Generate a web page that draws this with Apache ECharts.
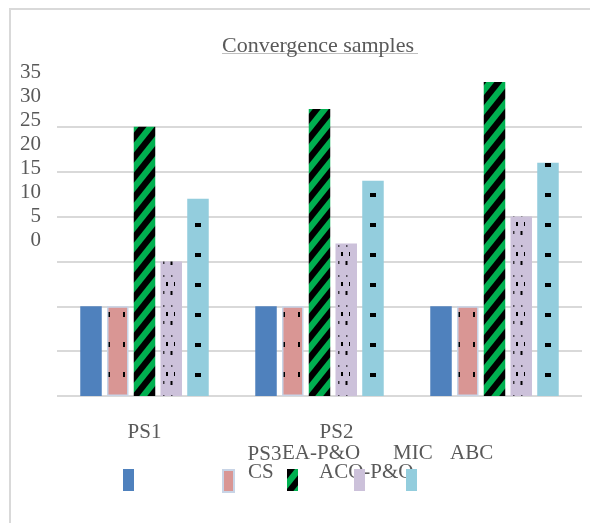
<!DOCTYPE html>
<html>
<head>
<meta charset="utf-8">
<script src="https://cdn.jsdelivr.net/npm/echarts@6/dist/echarts.min.js"></script>
<style>
html,body{margin:0;padding:0;background:#fff;}
#chart{width:590px;height:523px;}
</style>
</head>
<body>
<div id="chart"></div>
<script>
const categories = ['PS1', 'PS2', 'PS3'];
const seriesNames = ['EA-P&O', 'CS', 'ACO-P&O', 'MIC', 'ABC'];
const eaPO = [10, 10, 10];
const cs = [10, 10, 10];
const acoPO = [30, 32, 35];
const mic = [15, 17, 20];
const abc = [22, 24, 26];
const yTickLabels = ['0', '5', '10', '15', '20', '25', '30', '35'];

const FONT = '"Liberation Serif", "DejaVu Serif", serif';
const GREY = '#595959';

function makeTile(w, h, bg, draw) {
  const c = document.createElement('canvas');
  c.width = w; c.height = h;
  const ctx = c.getContext('2d');
  ctx.fillStyle = bg; ctx.fillRect(0, 0, w, h);
  ctx.fillStyle = '#000';
  draw(ctx);
  return { image: c, repeat: 'repeat' };
}

const greenPat = makeTile(16, 20, '#00b050', ctx => {
  for (let o = -32; o <= 32; o += 16) {
    ctx.beginPath();
    ctx.moveTo(o, 20); ctx.lineTo(o + 8, 20); ctx.lineTo(o + 24, 0); ctx.lineTo(o + 16, 0);
    ctx.closePath(); ctx.fill();
  }
});
const pinkPat = makeTile(175, 30, '#d99694', ctx => {
  ctx.fillRect(108, 12, 2, 5);
  ctx.fillRect(123, 12, 2, 5);
});
const micPat = makeTile(175, 30, '#ccc1da', ctx => {
  ctx.fillStyle = 'rgba(0,0,0,0.6)';
  [163, 171, 179].forEach(x => ctx.fillRect(x, 5, 1.5, 2));
  ctx.fillStyle = '#000';
  [166, 174].forEach(x => ctx.fillRect(x, 12, 2, 4));
  ctx.fillRect(170.5, 21, 2, 4);
  ctx.fillStyle = 'rgba(0,0,0,0.7)';
  [163, 178.5].forEach(x => ctx.fillRect(x, 21, 1.5, 3));
});
const abcPat = makeTile(175, 30, '#93cddd', ctx => {
  ctx.fillRect(20, 13, 6, 4);
});

const seriesData = [eaPO, cs, acoPO, mic, abc];
const seriesStyles = [
  { color: '#4f81bd' },
  { color: pinkPat, borderColor: '#c8d4e6', borderWidth: 1.5 },
  { color: greenPat },
  { color: micPat },
  { color: abcPat }
];

const series = seriesNames.map((n, i) => ({
  name: n,
  type: 'bar',
  xAxisIndex: 0,
  yAxisIndex: 0,
  barWidth: 21.5,
  barGap: '24.4%',
  itemStyle: seriesStyles[i],
  data: seriesData[i]
}));

const legendLeft = [123, 222, 287, 354, 406];
const legends = seriesNames.map((n, i) => ({
  data: [n],
  left: legendLeft[i],
  top: 469,
  padding: 0,
  icon: 'rect',
  itemWidth: 11,
  itemHeight: 22,
  selectedMode: false,
  formatter: () => '',
  textStyle: { fontSize: 1 }
}));

const legendTextPos = [
  [282, 453], [248, 472], [319, 472], [393, 453], [450, 453]
];

const richLabel = {
  p1: { fontFamily: FONT, fontSize: 21, color: GREY, lineHeight: 21 },
  p2: { fontFamily: FONT, fontSize: 21, color: GREY, lineHeight: 21, padding: [0, 0, 0, 34] },
  p3: { fontFamily: FONT, fontSize: 21, color: GREY, lineHeight: 21, padding: [44, 460, 0, 0] }
};

const chart = echarts.init(document.getElementById('chart'), null, { renderer: 'canvas' });
chart.setOption({
  animation: false,
  backgroundColor: '#fff',
  title: {
    text: 'Convergence samples',
    left: 222,
    top: 35,
    padding: 0,
    textStyle: { fontFamily: FONT, fontSize: 22, fontWeight: 'normal', color: GREY }
  },
  legend: legends,
  grid: [
    { left: 57, right: 8, top: 82, bottom: 127, containLabel: false, outerBoundsMode: 'none' },
    { left: 49, width: 10, top: 72, bottom: 283, containLabel: false, outerBoundsMode: 'none' }
  ],
  xAxis: [
    {
      type: 'category',
      gridIndex: 0,
      data: categories,
      axisLine: { show: false },
      axisTick: { show: false },
      axisLabel: {
        interval: 0,
        margin: 26,
        hideOverlap: false,
        formatter: (v) => '{p' + (categories.indexOf(v) + 1) + '|' + v + '}',
        rich: richLabel
      }
    },
    { type: 'value', gridIndex: 1, show: false, min: 0, max: 1 }
  ],
  yAxis: [
    {
      type: 'value',
      gridIndex: 0,
      min: 0,
      max: 35,
      interval: 5,
      axisLabel: { show: false },
      axisLine: { show: false },
      axisTick: { show: false },
      splitLine: { show: true, showMaxLine: false, lineStyle: { color: '#d9d9d9', width: 2 } }
    },
    {
      type: 'value',
      gridIndex: 1,
      min: 0,
      max: 35,
      interval: 5,
      axisLine: { show: false },
      axisTick: { show: false },
      splitLine: { show: false },
      axisLabel: {
        margin: 8,
        fontFamily: FONT,
        fontSize: 21,
        color: GREY,
        formatter: (v) => yTickLabels[Math.round(v / 5)]
      }
    }
  ],
  series: series,
  graphic: [
    {
      type: 'polyline',
      shape: { points: [[10, 523], [10, 9], [590, 9]] },
      style: { stroke: '#d9d9d9', lineWidth: 2, fill: null },
      silent: true
    },
    {
      type: 'line',
      shape: { x1: 222, y1: 53.5, x2: 418, y2: 53.5 },
      style: { stroke: '#bfbfbf', lineWidth: 1 },
      silent: true
    }
  ].concat(seriesNames.map((n, i) => ({
    type: 'text',
    x: legendTextPos[i][0],
    y: legendTextPos[i][1],
    style: {
      text: n,
      font: '21px ' + FONT,
      fill: GREY,
      verticalAlign: 'middle',
      align: 'left'
    },
    silent: true
  })))
});
</script>
</body>
</html>
